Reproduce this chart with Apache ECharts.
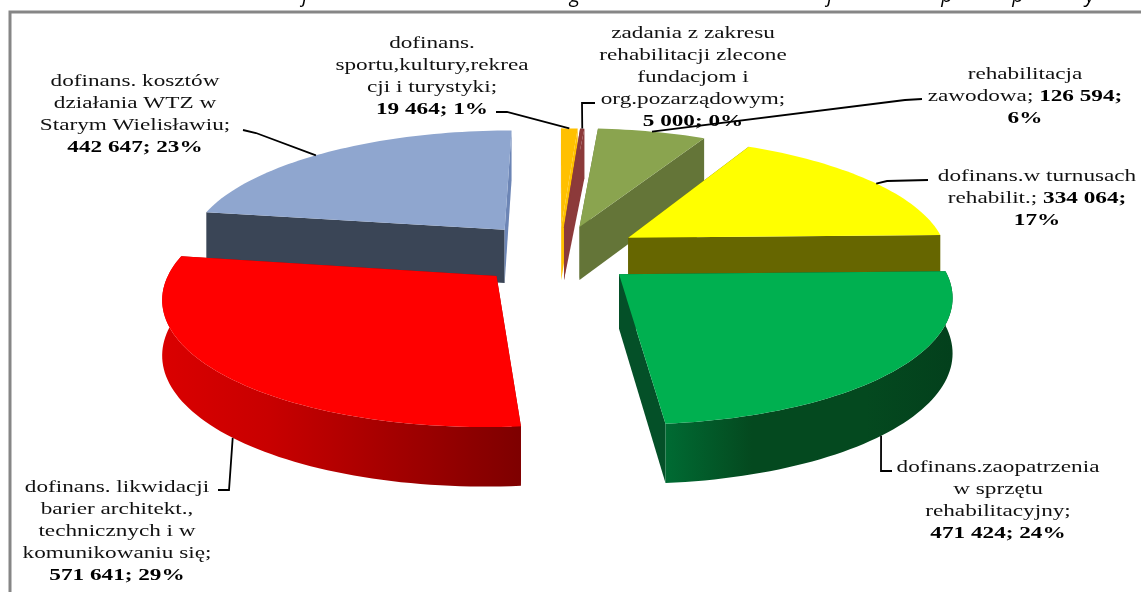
<!DOCTYPE html>
<html><head><meta charset="utf-8">
<style>html,body{margin:0;padding:0;background:#fff;overflow:hidden}#c{width:1141px;height:592px}</style>
<script src="https://cdn.jsdelivr.net/npm/echarts@6/dist/echarts.min.js"></script>
</head><body><div id="c"></div>
<script>
const categories = [
  'dofinans. sportu,kultury,rekreacji i turystyki',
  'zadania z zakresu rehabilitacji zlecone fundacjom i org.pozarządowym',
  'rehabilitacja zawodowa',
  'dofinans.w turnusach rehabilit.',
  'dofinans.zaopatrzenia w sprzętu rehabilitacyjny',
  'dofinans. likwidacji barier architekt., technicznych i w komunikowaniu się',
  'dofinans. kosztów działania WTZ w Starym Wielisławiu'
];
const seriesValues = [19464, 5000, 126594, 334064, 471424, 571641, 442647];
const percentLabels = [1, 0, 6, 17, 24, 29, 23];
const labelTemplates = [
  '{n|dofinans.}\n{n|sportu,kultury,rekrea}\n{n|cji i turystyki;}\n{b|VAL; PCT%}',
  '{n|zadania z zakresu}\n{n|rehabilitacji zlecone}\n{n|fundacjom i}\n{n|org.pozarządowym;}\n{b|VAL; PCT%}',
  '{n|rehabilitacja}\n{n|zawodowa; }{b|VAL;}\n{b|PCT%}',
  '{n|dofinans.w turnusach}\n{n|rehabilit.; }{b|VAL;}\n{b|PCT%}',
  '{n|dofinans.zaopatrzenia}\n{n|w sprzętu}\n{n|rehabilitacyjny;}\n{b|VAL; PCT%}',
  '{n|dofinans. likwidacji}\n{n|barier architekt.,}\n{n|technicznych i w}\n{n|komunikowaniu się;}\n{b|VAL; PCT%}',
  '{n|dofinans. kosztów}\n{n|działania WTZ w}\n{n|Starym Wielisławiu;}\n{b|VAL; PCT%}'
];
const clippedTitleGlyphs = [['j',305],['g',575],['j',830],['p',947],['p',1018],['y',1090]];

// styles and layout
const labelCenters = [[432,77],[693,78],[1025,97],[1037,199],[998,501],[117,532],[135,115]];
const leaderElbows = [[[496,112],[507,112]],[[595,103],[582,103]],[[922,99],[905,100]],[[928,180],[887,181]],[[892,471],[881,471]],[[218,490],[229,490]],[[243,130],[256,133]]];
const leaderAnchor = [[0.5,0],[0.5,0],[0.5,0],[0.53,0],[0.555,1],[0.47,1],[0.46,0]];
const explode = [0.23,0.23,0.24,0.26,0.245,0.26,0.27];
const paintOrder = [1,2,3,5,7,6,4];
const topColors = ['#FFC000','#8C3A3A','#8AA44F','#FFFF00','#00B050','#FF0000','#8FA6CF'];
const startWall = ['#C89600','#8C3A3A','#647538','#666600','#035026','#A00000','#3A4556'];
const endWall   = ['#FFC000','#8C3A3A','#647538','#666600','#045028','#A00000','#6C85B5'];
const arcStops = {
  4: [[0,'#006B33'],[0.3,'#04491F'],[0.7,'#04491F'],[1,'#03401C']],
  5: [[0,'#DA0000'],[0.3,'#C80000'],[0.6,'#A80000'],[1,'#7E0000']]
};
const P = {vx:559, vy:254, A:320, B:121, H:54, p:0.15};

const total = seriesValues.reduce((a,b)=>a+b,0);
const deg = Math.PI/180;
function project(X,Z,h){
  const s = 1/(1-P.p*Z);
  return [P.vx+P.A*X*s, P.vy+P.B*Z*s+P.H*Math.sqrt(s)*h];
}
function bounds(i){
  let c = 0; for(let k=0;k<i;k++) c+=seriesValues[k];
  return [c/total*360,(c+seriesValues[i])/total*360];
}
function fmt(v){ return String(v).replace(/\B(?=(\d{3})+$)/g,' '); }

function renderItem(params, api){
  const i = params.dataIndex, value = api.value(0);
  const [a0,a1] = bounds(i);
  const mid = (a0+a1)/2*deg, e = explode[i];
  const ox = e*Math.sin(mid), oz = -e*Math.cos(mid);
  const rim = (aDeg,h)=>project(ox+Math.sin(aDeg*deg),oz-Math.cos(aDeg*deg),h);
  const apex = h=>project(ox,oz,h);
  const arc = (from,to,h)=>{
    const n = Math.max(2,Math.ceil(Math.abs(to-from)/1.5)), pts=[];
    for(let k=0;k<=n;k++) pts.push(rim(from+(to-from)*k/n,h));
    return pts;
  };
  const z = paintOrder[i]*10;
  const kids = [];
  kids.push({type:'polygon',z2:z,shape:{points:[apex(0),rim(a0,0),rim(a0,1),apex(1)]},style:{fill:startWall[i]}});
  kids.push({type:'polygon',z2:z+1,shape:{points:[apex(0),rim(a1,0),rim(a1,1),apex(1)]},style:{fill:endWall[i]}});
  const f0 = Math.max(a0,88), f1 = Math.min(a1,285);
  if(arcStops[i] && f1>f0){
    const pts = arc(f0,f1,0).concat(arc(f1,f0,1));
    kids.push({type:'polygon',z2:z+2,shape:{points:pts},
      style:{fill:new echarts.graphic.LinearGradient(0,0,1,0,
        arcStops[i].map(s=>({offset:s[0],color:s[1]})))}});
  }
  kids.push({type:'polygon',z2:z+3,shape:{points:[apex(0)].concat(arc(a0,a1,0))},style:{fill:topColors[i]}});
  const [fr,h] = leaderAnchor[i];
  const leader = leaderElbows[i].concat([rim(a0+(a1-a0)*fr,h)]);
  kids.push({type:'polyline',z2:200,shape:{points:leader},style:{stroke:'#000',lineWidth:1.8,fill:null}});
  const txt = labelTemplates[i].replace('VAL',fmt(value)).replace('PCT',percentLabels[i]);
  kids.push({type:'text',z2:210,x:labelCenters[i][0],y:labelCenters[i][1],scaleX:1.45,
    style:{text:txt,align:'center',verticalAlign:'middle',fill:'#111',
      rich:{n:{fontFamily:'Liberation Serif',fontSize:16,lineHeight:22,fill:'#111'},
            b:{fontFamily:'Liberation Serif',fontSize:16,fontWeight:'bold',lineHeight:22,fill:'#000'}}}});
  if(i===0){
    clippedTitleGlyphs.forEach(g=>kids.push({type:'text',z2:220,x:g[1],y:6,
      style:{text:g[0],fontFamily:'Open Sans',fontStyle:'italic',fontSize:20,fill:'#000',align:'center',verticalAlign:'bottom'}}));
  }
  return {type:'group',children:kids};
}

const chart = echarts.init(document.getElementById('c'),null,{renderer:'canvas'});
chart.setOption({
  animation:false,
  backgroundColor:'#fff',
  graphic:[
    {type:'rect',z:-1,shape:{x:10,y:12,width:1300,height:800},style:{fill:'#fff',stroke:'#868686',lineWidth:3}}
  ],
  series:[{type:'custom',coordinateSystem:'none',data:seriesValues.map((v,i)=>({name:categories[i],value:[v]})),
    renderItem,silent:true,clip:false}]
});
</script></body></html>
